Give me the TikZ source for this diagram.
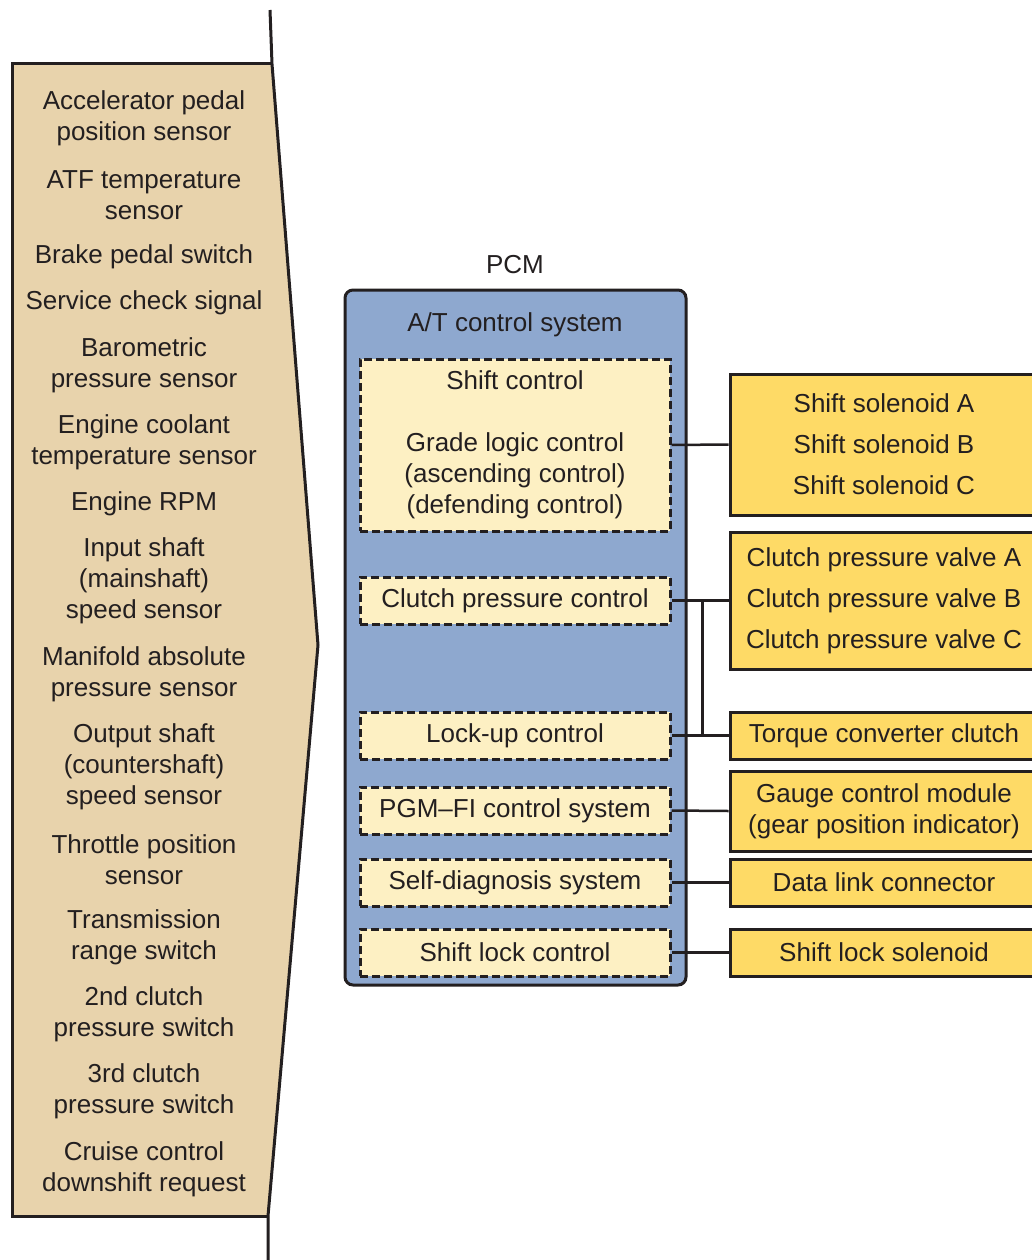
\documentclass[tikz,border=0pt]{standalone}
\usepackage{fontspec}
\setmainfont{Liberation Sans}
\definecolor{tanfill}{RGB}{232,211,172}
\definecolor{pcmblue}{RGB}{142,168,207}
\definecolor{paleyellow}{RGB}{253,240,195}
\definecolor{gold}{RGB}{254,218,102}
\definecolor{ink}{RGB}{35,31,32}
\begin{document}
\begin{tikzpicture}[x=1pt, y=-1pt,
    every node/.style={font=\fontsize{26}{31}\selectfont, text=ink},
    sensor/.style={align=center, inner sep=0pt},
    ctrl/.style={draw=ink, dash pattern=on 8pt off 4pt, line width=3pt, fill=paleyellow, minimum width=310pt, align=center, inner sep=0pt},
    outbox/.style={draw=ink, line width=3pt, fill=gold, minimum width=308pt, align=center, inner sep=0pt},
    wire/.style={draw=ink, line width=2.5pt}]
    \useasboundingbox (0,0) rectangle (1031,1260);
    % input side
    \fill[tanfill] (12,64) -- (272,64) -- (318,645) -- (268,1216) -- (12,1216) -- cycle;
    \draw[ink, line width=3pt, line join=miter] (270,10) -- (272,64) -- (318,645) -- (268,1216) -- (268,1260);
    \draw[ink, line width=3pt] (272,64) -- (12,64) -- (12,1216) -- (268,1216);
    \node[sensor] (app) at (144,118.5) {Accelerator pedal\\position sensor};
    \node[sensor] (atf) at (144,195.5) {ATF temperature\\sensor};
    \node[sensor] (brake) at (144,257) {Brake pedal switch};
    \node[sensor] (svc) at (144,303) {Service check signal};
    \node[sensor] (baro) at (144,365) {Barometric\\pressure sensor};
    \node[sensor] (ect) at (144,442.5) {Engine coolant\\temperature sensor};
    \node[sensor] (rpm) at (144,504) {Engine RPM};
    \node[sensor] (inshaft) at (144,581) {Input shaft\\(mainshaft)\\speed sensor};
    \node[sensor] (map) at (144,674) {Manifold absolute\\pressure sensor};
    \node[sensor] (outshaft) at (144,767) {Output shaft\\(countershaft)\\speed sensor};
    \node[sensor] (tps) at (144,860) {Throttle position\\sensor};
    \node[sensor] (range) at (144,937.5) {Transmission\\range switch};
    \node[sensor] (sw2) at (144,1014.5) {2nd clutch\\pressure switch};
    \node[sensor] (sw3) at (144,1091.5) {3rd clutch\\pressure switch};
    \node[sensor] (cruise) at (144,1169) {Cruise control\\downshift request};
    % PCM
    \node[draw=ink, line width=3pt, rounded corners=8pt, fill=pcmblue, minimum width=341pt, minimum height=695pt] (pcm) at (515.5,637.5) {};
    \node (pcmlabel) at (515,265) {PCM};
    \node (atsys) at (515,325) {A/T control system};
    \node[ctrl, minimum height=172pt] (shift) at (515,445) {Shift control\\[31pt]Grade logic control\\(ascending control)\\(defending control)};
    \node[ctrl, minimum height=47pt] (clutch) at (515,600.5) {Clutch pressure control};
    \node[ctrl, minimum height=47pt] (lockup) at (515,735.5) {Lock-up control};
    \node[ctrl, minimum height=47pt] (pgmfi) at (515,810.5) {PGM--FI control system};
    \node[ctrl, minimum height=47pt] (diag) at (515,882.5) {Self-diagnosis system};
    \node[ctrl, minimum height=47pt] (lockctl) at (515,952.5) {Shift lock control};
    % outputs
    \node[outbox, minimum height=141pt] (sol) at (884,444.5) {Shift solenoid A\\[10pt]Shift solenoid B\\[10pt]Shift solenoid C};
    \node[outbox, minimum height=137pt] (valve) at (884,600.5) {Clutch pressure valve A\\[10pt]Clutch pressure valve B\\[10pt]Clutch pressure valve C};
    \node[outbox, minimum height=47pt] (tcc) at (884,735.5) {Torque converter clutch};
    \node[outbox, minimum height=80pt] (gauge) at (884,811) {Gauge control module\\(gear position indicator)};
    \node[outbox, minimum height=47pt] (dlc) at (884,882.5) {Data link connector};
    \node[outbox, minimum height=47pt] (sls) at (884,952.5) {Shift lock solenoid};
    \draw[wire] (shift.east) -- (sol.west);
    \draw[wire] (clutch.east) -- (valve.west);
    \draw[wire] (lockup.east) -- (tcc.west);
    \draw[wire] ([xshift=31pt]clutch.east) -- ([xshift=31pt]lockup.east);
    \draw[wire] (pgmfi.east) -- (gauge.west);
    \draw[wire] (diag.east) -- (dlc.west);
    \draw[wire] (lockctl.east) -- (sls.west);
\end{tikzpicture}
\end{document}
